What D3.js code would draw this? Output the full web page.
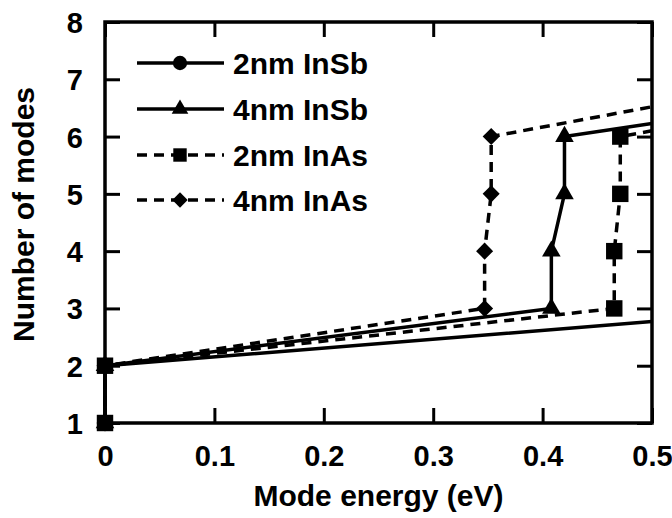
<!DOCTYPE html>
<html>
<head>
<meta charset="utf-8">
<script src="https://cdn.jsdelivr.net/npm/d3@7"></script>
<style>
  body { margin: 0; background: #fff; }
  text { font-family: "Liberation Sans", Arial, sans-serif; font-weight: bold; fill: #000; }
</style>
</head>
<body>
<div id="chart"></div>
<script>
// series data: [mode energy (eV), number of modes]
var inSb2 = [[0, 1], [0, 2], [0.5, 2.77]];
var inSb4 = [[0, 1], [0, 2], [0.408, 3], [0.408, 4], [0.42, 5], [0.42, 6], [0.5, 6.23]];
var inAs2 = [[0, 1], [0, 2], [0.4655, 3], [0.4655, 4], [0.471, 5], [0.471, 6], [0.5, 6.1]];
var inAs4 = [[0, 1], [0, 2], [0.347, 3], [0.347, 4], [0.353, 5], [0.353, 6], [0.5, 6.52]];

var seriesNames = ["2nm InSb", "4nm InSb", "2nm InAs", "4nm InAs"];
var seriesData = [inSb2, inSb4, inAs2, inAs4];
var seriesSymbols = [d3.symbolCircle, d3.symbolTriangle, d3.symbolSquare, d3.symbolDiamond2];
var seriesDashed = [false, false, true, true];

var xTicks = [0, 0.1, 0.2, 0.3, 0.4, 0.5];
var yTicks = [1, 2, 3, 4, 5, 6, 7, 8];

const w = 672;
const h = 518;
const pLeft = 105, pRight = 652, pTop = 22, pBottom = 423;
const tickLen = 15;

const xScale = d3.scaleLinear().domain([0, 0.5]).range([pLeft, pRight]);
const yScale = d3.scaleLinear().domain([1, 8]).range([pBottom, pTop]);

const svg = d3.select("#chart").append("svg")
              .attr("width", w).attr("height", h);

svg.append("defs").append("clipPath").attr("id", "plot-clip")
   .append("rect")
   .attr("x", pLeft - 12).attr("y", pTop)
   .attr("width", pRight - pLeft + 12).attr("height", pBottom - pTop + 12);

// axes: ticks inside, mirrored on all four sides
const axisStyle = function(g) {
  g.select(".domain").remove();
  g.selectAll(".tick line").attr("stroke", "#000").attr("stroke-width", 3);
};

svg.append("g").attr("transform", "translate(0," + pBottom + ")")
   .call(d3.axisBottom(xScale).tickValues(xTicks).tickSize(-tickLen).tickFormat(d3.format("")))
   .call(axisStyle)
   .call(g => g.selectAll(".tick text").attr("y", 43).attr("dy", 0)
                .style("font-size", "29px"));

svg.append("g").attr("transform", "translate(0," + pTop + ")")
   .call(d3.axisTop(xScale).tickValues(xTicks).tickSize(-tickLen).tickFormat(""))
   .call(axisStyle);

svg.append("g").attr("transform", "translate(" + pLeft + ",0)")
   .call(d3.axisLeft(yScale).tickValues(yTicks).tickSize(-tickLen).tickFormat(d3.format("d")))
   .call(axisStyle)
   .call(g => g.selectAll(".tick text").attr("x", -22).attr("dy", "0.36em")
                .style("font-size", "29px"));

svg.append("g").attr("transform", "translate(" + pRight + ",0)")
   .call(d3.axisRight(yScale).tickValues(yTicks).tickSize(-tickLen).tickFormat(""))
   .call(axisStyle);

svg.append("rect")
   .attr("x", pLeft).attr("y", pTop)
   .attr("width", pRight - pLeft).attr("height", pBottom - pTop)
   .attr("fill", "none").attr("stroke", "#000").attr("stroke-width", 3.5);

// axis titles
svg.append("text")
   .attr("text-anchor", "middle")
   .attr("x", (pLeft + pRight) / 2)
   .attr("y", 506)
   .style("font-size", "30px")
   .text("Mode energy (eV)");

svg.append("text")
   .attr("text-anchor", "middle")
   .attr("transform", "translate(34," + ((pTop + pBottom) / 2 - 8) + ") rotate(-90)")
   .style("font-size", "30px")
   .text("Number of modes");

// data lines
const line = d3.line().x(d => xScale(d[0])).y(d => yScale(d[1]));
const symbolSizes = [150, 150, 270, 185];

const groups = seriesData.map(function(data, i) {
  const g = svg.append("g").attr("clip-path", "url(#plot-clip)");
  g.append("path")
   .datum(data)
   .attr("d", line)
   .attr("fill", "none")
   .attr("stroke", "#000")
   .attr("stroke-width", 3.5)
   .attr("stroke-dasharray", seriesDashed[i] ? "10,7" : null);
  return g;
});

// markers on every point except the one at the axis edge; squares drawn last
[0, 1, 3, 2].forEach(function(i) {
  groups[i].raise();
  groups[i].selectAll("path.mark").data(seriesData[i].slice(0, -1)).enter().append("path")
   .attr("class", "mark")
   .attr("d", d3.symbol().type(seriesSymbols[i]).size(symbolSizes[i]))
   .attr("transform", d => "translate(" + xScale(d[0]) + "," + yScale(d[1]) + ")")
   .attr("fill", "#000");
});

// legend
const legend = svg.append("g");
const legendY = [63, 109, 155, 200];
const legendSizes = [160, 120, 180, 150];
seriesNames.forEach(function(name, i) {
  const row = legend.append("g").attr("transform", "translate(0," + legendY[i] + ")");
  row.append("line")
     .attr("x1", 137).attr("x2", 224).attr("y1", 0).attr("y2", 0)
     .attr("stroke", "#000").attr("stroke-width", 3.5)
     .attr("stroke-dasharray", seriesDashed[i] ? "10,7" : null);
  row.append("path")
     .attr("d", d3.symbol().type(seriesSymbols[i]).size(legendSizes[i]))
     .attr("transform", "translate(180,0)")
     .attr("fill", "#000");
  row.append("text")
     .attr("x", 233).attr("y", 0).attr("dy", "0.36em")
     .style("font-size", "30px")
     .text(name);
});
</script>
</body>
</html>
